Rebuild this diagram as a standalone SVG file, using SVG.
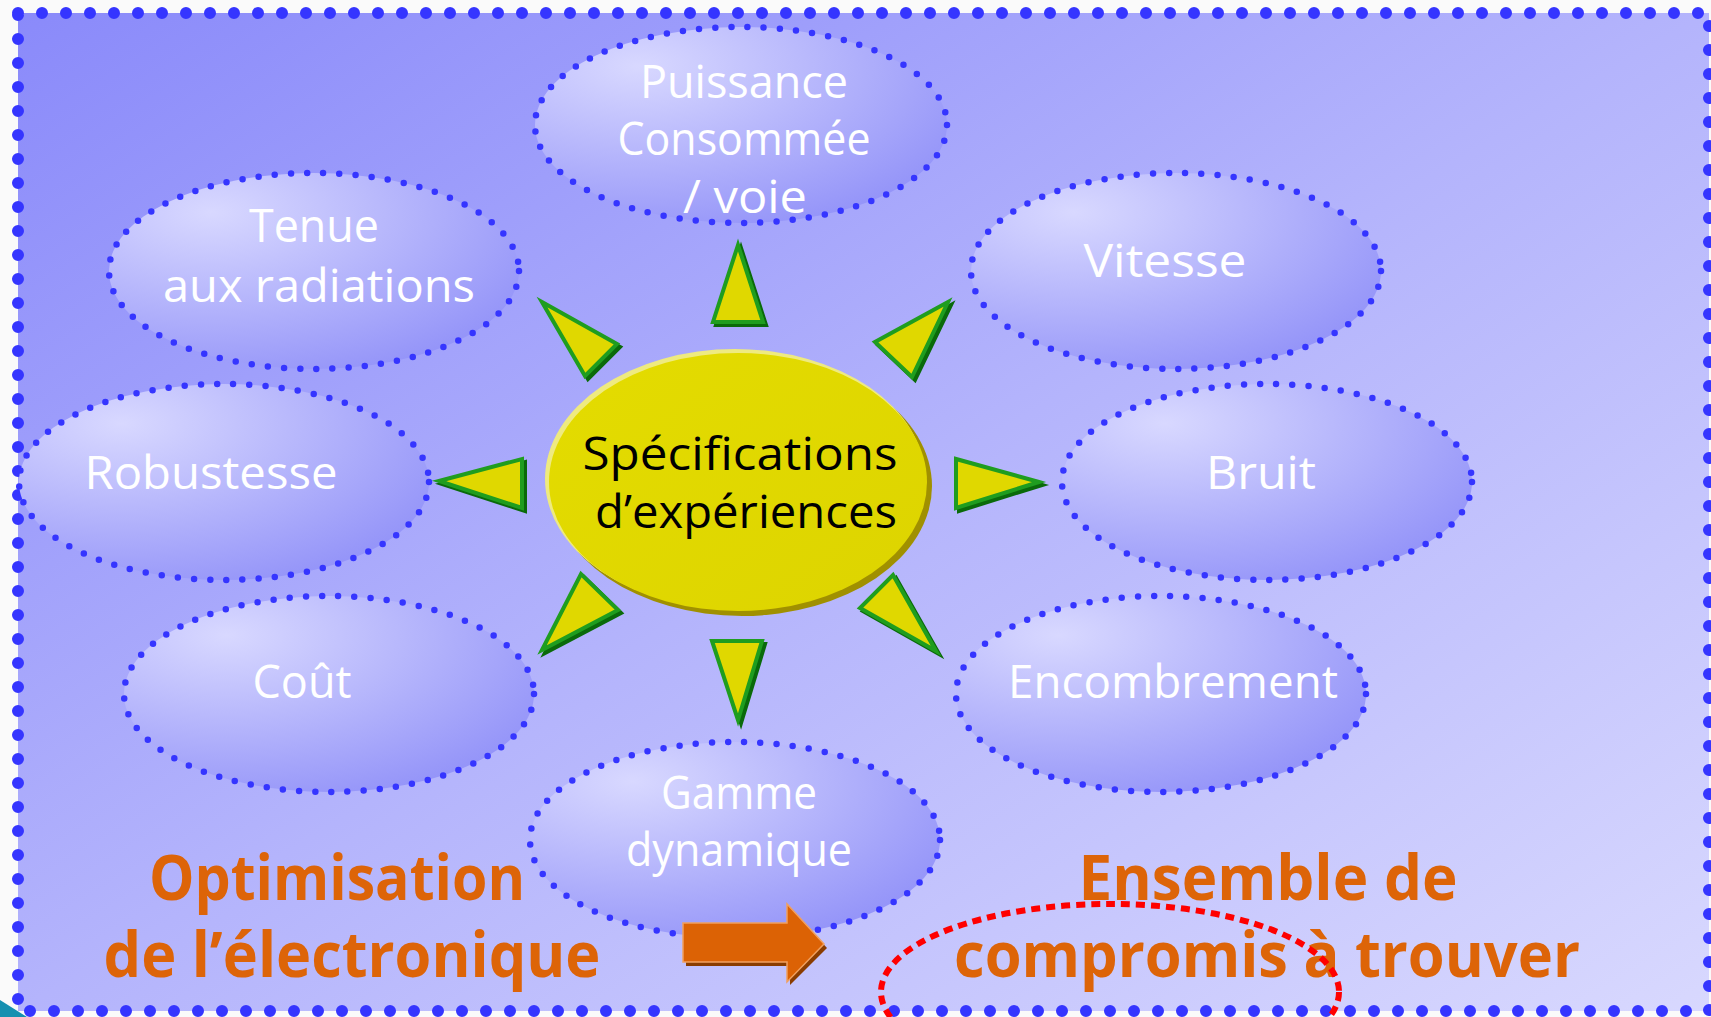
<svg xmlns="http://www.w3.org/2000/svg" width="1711" height="1017" viewBox="0 0 1711 1017">
<defs>
<linearGradient id="bg" x1="0" y1="0" x2="1" y2="1">
<stop offset="0" stop-color="#8a8afa"/>
<stop offset="0.5" stop-color="#b4b4fc"/>
<stop offset="1" stop-color="#d8d8fe"/>
</linearGradient>
<radialGradient id="ell" cx="0.25" cy="0.2" r="0.95">
<stop offset="0" stop-color="#d8d8ff"/>
<stop offset="1" stop-color="#9090f8"/>
</radialGradient>
<linearGradient id="yel" x1="0" y1="0" x2="1" y2="1">
<stop offset="0" stop-color="#e4dc00"/>
<stop offset="1" stop-color="#ddd400"/>
</linearGradient>
</defs>
<style>
.node ellipse.b{fill:url(#ell);stroke:#3535ff;stroke-width:6.5;stroke-dasharray:0 16.2;stroke-linecap:round}
.lbl{font-family:"Comic Sans MS","Open Sans","Noto Sans",sans-serif;font-size:46px;fill:#ffffff;text-anchor:middle}
.ctr{font-family:"Comic Sans MS","Open Sans","Noto Sans",sans-serif;font-size:45px;fill:#000000;text-anchor:middle}
.org{font-family:"Comic Sans MS","Open Sans","Noto Sans",sans-serif;font-size:62px;font-weight:bold;fill:#dd6408;text-anchor:middle}
.tri{fill:#e0d800;stroke:#1f9d1f;stroke-width:4;stroke-linejoin:miter}
.trs{fill:#0a6a0a;stroke:#0a6a0a;stroke-width:4}
</style>
<rect x="0" y="0" width="1711" height="1017" fill="#fafafa"/>
<rect x="18" y="13" width="1691" height="998" fill="url(#bg)"/>
<rect x="18" y="13" width="1691" height="998" fill="none" stroke="#3535ff" stroke-width="12" stroke-dasharray="0 24" stroke-linecap="round"/>
<polygon points="0,1000 27,1017 0,1017" fill="#1590b0"/>

<g id="node-puissance" class="node">
<ellipse class="b" cx="741" cy="125" rx="206" ry="98"/>
<text class="lbl" x="744" y="98" textLength="208" lengthAdjust="spacingAndGlyphs">Puissance</text>
<text class="lbl" x="744" y="155" textLength="253" lengthAdjust="spacingAndGlyphs">Consommée</text>
<text class="lbl" x="745" y="213" textLength="124" lengthAdjust="spacingAndGlyphs">/ voie</text>
</g>
<g id="node-tenue" class="node">
<ellipse class="b" cx="314" cy="271" rx="205" ry="98"/>
<text class="lbl" x="314" y="242" textLength="130" lengthAdjust="spacingAndGlyphs">Tenue</text>
<text class="lbl" x="319" y="302" textLength="312" lengthAdjust="spacingAndGlyphs">aux radiations</text>
</g>
<g id="node-vitesse" class="node">
<ellipse class="b" cx="1176" cy="271" rx="205" ry="98"/>
<text class="lbl" x="1165" y="277" textLength="163" lengthAdjust="spacingAndGlyphs">Vitesse</text>
</g>
<g id="node-robustesse" class="node">
<ellipse class="b" cx="224" cy="482" rx="205" ry="98"/>
<text class="lbl" x="211" y="489" textLength="253" lengthAdjust="spacingAndGlyphs">Robustesse</text>
</g>
<g id="node-bruit" class="node">
<ellipse class="b" cx="1267" cy="482" rx="205" ry="98"/>
<text class="lbl" x="1261" y="489" textLength="110" lengthAdjust="spacingAndGlyphs">Bruit</text>
</g>
<g id="node-cout" class="node">
<ellipse class="b" cx="329" cy="694" rx="205" ry="98"/>
<text class="lbl" x="302" y="698" textLength="99" lengthAdjust="spacingAndGlyphs">Coût</text>
</g>
<g id="node-encombrement" class="node">
<ellipse class="b" cx="1161" cy="694" rx="205" ry="98"/>
<text class="lbl" x="1173" y="698" textLength="330" lengthAdjust="spacingAndGlyphs">Encombrement</text>
</g>
<g id="node-gamme" class="node">
<ellipse class="b" cx="735" cy="840" rx="205" ry="98"/>
<text class="lbl" x="739" y="809" textLength="156" lengthAdjust="spacingAndGlyphs">Gamme</text>
<text class="lbl" x="739" y="866" textLength="226" lengthAdjust="spacingAndGlyphs">dynamique</text>
</g>

<g id="node-specifications">
<ellipse cx="742" cy="486" rx="190" ry="130" fill="#a09000"/>
<ellipse cx="735" cy="479" rx="190" ry="130" fill="#eeea80"/>
<ellipse cx="738" cy="482" rx="189" ry="129" fill="url(#yel)"/>
<text class="ctr" x="740" y="470" textLength="315" lengthAdjust="spacingAndGlyphs">Spécifications</text>
<text class="ctr" x="746" y="528" textLength="302" lengthAdjust="spacingAndGlyphs">d’expériences</text>
</g>

<g id="connectors">
<g transform="translate(3,3)">
<polygon class="trs" points="738,245 713,322 763,322"/>
<polygon class="trs" points="542,302 617,344 585,376"/>
<polygon class="trs" points="948,302 875,342 912,377"/>
<polygon class="trs" points="439,481 522,459 522,508"/>
<polygon class="trs" points="1039,482 956,459 956,508"/>
<polygon class="trs" points="542,650 581,574 618,610"/>
<polygon class="trs" points="936,651 893,575 860,608"/>
<polygon class="trs" points="738,720 712,641 762,641"/>
</g>
<polygon class="tri" points="738,245 713,322 763,322"/>
<polygon class="tri" points="542,302 617,344 585,376"/>
<polygon class="tri" points="948,302 875,342 912,377"/>
<polygon class="tri" points="439,481 522,459 522,508"/>
<polygon class="tri" points="1039,482 956,459 956,508"/>
<polygon class="tri" points="542,650 581,574 618,610"/>
<polygon class="tri" points="936,651 893,575 860,608"/>
<polygon class="tri" points="738,720 712,641 762,641"/>
</g>

<g id="label-optimisation">
<text class="org" x="337" y="900" textLength="376" lengthAdjust="spacingAndGlyphs">Optimisation</text>
<text class="org" x="352" y="977" textLength="497" lengthAdjust="spacingAndGlyphs">de l’électronique</text>
</g>

<g id="arrow-orange">
<polygon points="686,926 790,926 790,908 827,948 790,985 790,966 686,966" fill="#8a3c00"/>
<polygon points="683,923 787,923 787,904 824,944 787,982 787,962 683,962" fill="#dc6205" stroke="#f0a060" stroke-width="1.5"/>
</g>

<g id="label-ensemble">
<text class="org" x="1268" y="900" textLength="379" lengthAdjust="spacingAndGlyphs">Ensemble de</text>
<text class="org" x="1267" y="977" textLength="626" lengthAdjust="spacingAndGlyphs">compromis à trouver</text>
</g>

<ellipse id="highlight" cx="1110" cy="992" rx="229" ry="88" fill="none" stroke="#ff0000" stroke-width="6" stroke-dasharray="9 6"/>
</svg>
